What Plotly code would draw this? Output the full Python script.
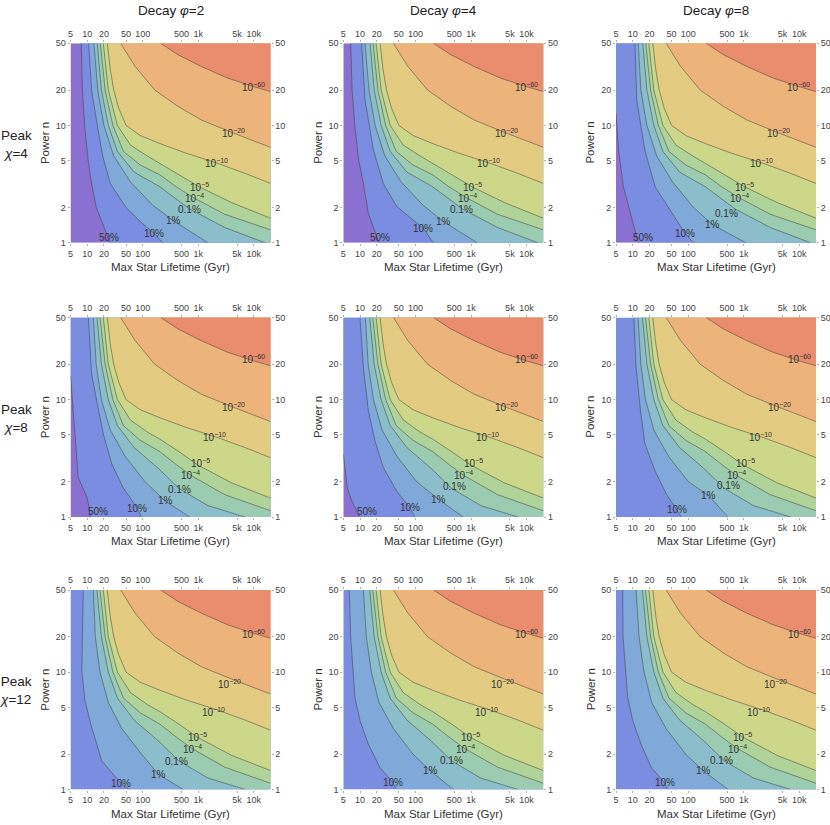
import numpy as np
import plotly.graph_objects as go

# contour levels, from the lower left (likely) to the upper right (unlikely)
level_text = ["50%", "10%", "1%", "0.1%", "10<sup>−4</sup>", "10<sup>−5</sup>",
              "10<sup>−10</sup>", "10<sup>−20</sup>", "10<sup>−60</sup>"]
band_colors = ["#8a70d0", "#7b8de0", "#80a9da", "#8bbdca", "#9bcbb0",
               "#b0d39a", "#ccd78a", "#e3cc82", "#ecb37b", "#e98d6e"]

decay = [2, 4, 8]
peak = [4, 8, 12]

x_ticks = [5, 10, 20, 50, 100, 500, 1000, 5000, 10000]
x_ticktext = ["5", "10", "20", "50", "100", "500", "1k", "5k", "10k"]
y_ticks = [1, 2, 5, 10, 20, 50]
x_min, x_max = 5, 20000
y_min, y_max = 1, 50

# contour lines: max star lifetime (Gyr) and power n
# one entry per panel, row by row (peak 4, 8, 12), None where the level is absent
line_50_x = [[7.8, 8.2, 9.0, 10.4, 11.8, 14.6, 19, 26],
             [6.8, 7.2, 8.1, 9.5, 11.5, 14.1, 18, 22],
             [5, 5.6, 6.8, 9.6, 12.6],
             [5, 5.8, 6.9, 10, 11.5],
             [5, 5.9, 7.1, 10],
             None, None, None, None]
line_50_n = [[50, 20, 10, 5, 3.3, 2, 1.45, 1],
             [50, 20, 9.8, 5, 3.2, 1.79, 1.3, 1],
             [12.7, 6, 3.0, 1.67, 1],
             [16, 6.2, 2.17, 1.46, 1],
             [3.44, 1.78, 1.37, 1],
             None, None, None, None]

line_10_x = [[10.6, 12, 15.2, 19, 26, 50, 100, 160, 230],
             [10.7, 12.3, 17.4, 26.3, 45.8, 138, 209],
             [11, 11.8, 16.5, 25.3, 46.9, 87, 124],
             [10.5, 12, 14.8, 19.5, 27.7, 44.3, 79.6, 95],
             [10, 11.5, 14.1, 18.6, 26.3, 45.4, 79, 97],
             [10.5, 11.5, 13.8, 16.6, 25.2, 40.5, 61.6, 75],
             [8.5, 8.2, 8.0, 9.1, 12, 18.3, 29.4, 41.3, 58],
             [6.4, 6.8, 8.1, 10, 14.1, 22.9, 39.6, 45],
             [6.6, 6.7, 8.1, 10, 14.1, 21.6, 37.5, 42]]
line_10_n = [[50, 20, 10, 5.5, 3.2, 2.0, 1.45, 1.21, 1],
             [50, 16.5, 6.2, 3.2, 2.04, 1.33, 1],
             [50, 16.5, 6.2, 3.0, 1.91, 1.21, 1],
             [50, 16.6, 9.8, 5.1, 2.83, 1.78, 1.19, 1],
             [50, 18.9, 8.1, 4.46, 2.64, 1.67, 1.2, 1],
             [50, 18.9, 8.1, 4.2, 2.47, 1.56, 1.16, 1],
             [50, 20, 10.3, 5.7, 3.4, 1.75, 1.35, 1.12, 1],
             [50, 20, 6.1, 3.86, 2.44, 1.54, 1.14, 1],
             [50, 20, 6.1, 3.86, 2.44, 1.54, 1.14, 1]]

line_1_x = [[13.2, 15.5, 20, 30, 60, 150, 356, 1500],
            [12.3, 14.5, 18.7, 28, 55, 135, 316, 1300],
            [12.6, 14, 18, 27, 52, 125, 277, 1100],
            [12.9, 14.5, 18, 26, 48, 110, 252, 700],
            [12.5, 14, 17.5, 25, 46, 105, 257, 720],
            [12.5, 14, 17, 24, 44, 100, 230, 522],
            [12.9, 14, 17, 24, 42, 95, 191, 535],
            [11.5, 13, 16, 22, 40, 90, 187, 480],
            [11.5, 13, 16, 22, 40, 90, 187, 525]]
line_1_n = [[50, 20, 10, 5.5, 3.3, 2.1, 1.54, 1],
            [50, 20, 10, 5.5, 3.3, 2.1, 1.52, 1],
            [50, 20, 10, 5.5, 3.3, 2.0, 1.42, 1],
            [50, 20, 10, 5.5, 3.3, 2.0, 1.37, 1],
            [50, 20, 10, 5.5, 3.3, 2.0, 1.42, 1],
            [50, 20, 10, 5.5, 3.3, 2.0, 1.53, 1],
            [50, 20, 10, 5.5, 3.3, 2.0, 1.35, 1],
            [50, 20, 10, 5.5, 3.3, 2.0, 1.44, 1],
            [50, 20, 10, 5.5, 3.3, 2.0, 1.44, 1]]

# one entry per row
line_01_x = [[15.2, 18, 24, 35, 70, 204, 700, 3000, 16000],
             [15, 18, 24, 35, 70, 190, 450, 1500, 7000],
             [15, 18, 24, 35, 70, 190, 450, 1500, 7000]]
line_01_n = [[50, 20, 10, 6, 4, 3.0, 1.94, 1.35, 1],
             [50, 20, 10, 6, 3.9, 2.6, 1.75, 1.25, 1],
             [50, 20, 10, 6, 3.9, 2.6, 1.75, 1.25, 1]]
line_e4_x = [[17.2, 21, 29, 45, 90, 204, 400, 850, 3000, 20000],
             [17, 21, 29, 45, 90, 204, 400, 750, 3000, 20000],
             [17, 21, 29, 45, 90, 204, 400, 750, 3000, 20000]]
line_e4_n = [[50, 20, 10, 6, 4.6, 3.79, 3.0, 2.4, 1.75, 1.29],
             [50, 20, 10, 6, 4.5, 3.6, 2.8, 2.25, 1.55, 1.13],
             [50, 20, 10, 6, 4.5, 3.6, 2.8, 2.25, 1.55, 1.13]]
line_e5_x = [[19.5, 24, 35, 60, 120, 204, 450, 1040, 4000, 20000],
             [19.5, 24, 35, 60, 120, 204, 450, 950, 4000, 20000],
             [19.5, 24, 35, 60, 120, 204, 450, 950, 4000, 20000]]
line_e5_n = [[50, 20, 10, 6.8, 5.5, 4.77, 3.8, 3.0, 2.2, 1.62],
             [50, 20, 10, 6.7, 5.3, 4.6, 3.6, 2.8, 1.95, 1.45],
             [50, 20, 10, 6.7, 5.3, 4.6, 3.6, 2.8, 1.95, 1.45]]

# same in every panel
line_e10_x = [23, 26, 30, 37, 50, 90, 204, 600, 2100, 7000, 20000]
line_e10_n = [50, 30, 20, 14, 10, 8.2, 7, 5.8, 4.8, 3.9, 3.2]
line_e20_x = [40, 72, 164, 432, 1140, 4290, 20000]
line_e20_n = [50, 32, 20, 14.5, 11.1, 8.6, 6.5]
line_e60_x = [210, 430, 1140, 3440, 9840, 20000]
line_e60_n = [50, 40, 31.7, 25.2, 21.4, 19.4]

# where the contour labels sit
label_50 = [(25, 1.12), (22.9, 1.12), (15.5, 1.12), (15.9, 1.11), (13.2, 1.12),
            None, None, None, None]
label_10 = [(160, 1.21), (138, 1.33), (87, 1.21), (79.6, 1.19), (79, 1.2),
            (61.6, 1.16), (41.3, 1.12), (39.6, 1.14), (37.5, 1.14)]
label_1 = [(356, 1.54), (316, 1.52), (277, 1.42), (252, 1.37), (257, 1.42),
           (230, 1.53), (191, 1.35), (187, 1.44), (187, 1.44)]
label_01 = [(700, 1.94), (662, 1.91), (489, 1.79), (468, 1.72), (511, 1.82),
            (525, 1.87), (408, 1.73), (445, 1.75), (400, 1.75)]
# per row: 1e-4, 1e-5, 1e-10, 1e-20, 1e-60
label_upper = [[(850, 2.4), (1040, 3.0), (2100, 4.8), (4290, 8.6), (9840, 21.4)],
               [(730, 2.3), (1090, 2.91), (2000, 4.76), (4370, 8.6), (9960, 22)],
               [(780, 2.21), (960, 2.81), (1870, 4.54), (3700, 7.95), (9960, 21.3)]]

FONT = "Liberation Sans, Arial, sans-serif"
W, H = 830, 825
col_left = [70.5, 343.3, 616.0]
row_top = [43.3, 317.5, 590.0]
pw, ph = 200.0, 199.5

fig = go.Figure()
annotations = []
layout_axes = {}


def ax_name(k, letter):
    return letter if k == 1 else f"{letter}{k}"


for r in range(3):
    for c in range(3):
        i = r * 3 + c
        k = i + 1
        xa, ya = ax_name(k, "x"), ax_name(k, "y")

        lines = [
            (line_50_x[i], line_50_n[i]),
            (line_10_x[i], line_10_n[i]),
            (line_1_x[i], line_1_n[i]),
            (line_01_x[r], line_01_n[r]),
            (line_e4_x[r], line_e4_n[r]),
            (line_e5_x[r], line_e5_n[r]),
            (line_e10_x, line_e10_n),
            (line_e20_x, line_e20_n),
            (line_e60_x, line_e60_n),
        ]

        # base band, then each region up and right of a contour on top
        base = band_colors[0] if line_50_x[i] is not None else band_colors[1]
        fig.add_trace(go.Scatter(
            x=[x_min, x_max, x_max, x_min], y=[y_min, y_min, y_max, y_max],
            fill="toself", fillcolor=base, line=dict(width=0), mode="lines",
            xaxis=xa, yaxis=ya, hoverinfo="skip"))
        for j, (lx, ln) in enumerate(lines):
            if lx is None:
                continue
            px = list(lx) + [x_max, x_max, lx[0]]
            py = list(ln) + [ln[-1], y_max, y_max]
            fig.add_trace(go.Scatter(
                x=px, y=py, fill="toself", fillcolor=band_colors[j + 1],
                line=dict(width=0), mode="lines",
                xaxis=xa, yaxis=ya, hoverinfo="skip"))
        for lx, ln in lines:
            if lx is None:
                continue
            fig.add_trace(go.Scatter(
                x=lx, y=ln, mode="lines",
                line=dict(color="rgba(55,55,55,0.6)", width=0.8),
                xaxis=xa, yaxis=ya, hoverinfo="skip"))

        # dummy trace so the top/right axes get drawn
        fig.add_trace(go.Scatter(
            x=[x_min], y=[y_min], mode="markers", marker=dict(opacity=0),
            xaxis=ax_name(k + 9, "x"), yaxis=ax_name(k + 9, "y"),
            hoverinfo="skip"))

        dx = [col_left[c] / W, (col_left[c] + pw) / W]
        dy = [1 - (row_top[r] + ph) / H, 1 - row_top[r] / H]
        common = dict(type="log", showgrid=False, zeroline=False,
                      showline=False, automargin=False,
                      ticks="outside", ticklen=2, tickcolor="#b0b0b0",
                      tickfont=dict(size=9, color="#444", family=FONT))
        xcommon = dict(common, range=[np.log10(x_min), np.log10(x_max)],
                       tickvals=x_ticks, ticktext=x_ticktext, domain=dx)
        ycommon = dict(common, range=[np.log10(y_min), np.log10(y_max)],
                       tickvals=y_ticks, ticktext=[str(v) for v in y_ticks],
                       domain=dy)
        layout_axes["xaxis" if k == 1 else f"xaxis{k}"] = dict(
            xcommon, anchor=ya, side="bottom")
        layout_axes["yaxis" if k == 1 else f"yaxis{k}"] = dict(
            ycommon, anchor=xa, side="left")
        layout_axes[f"xaxis{k + 9}"] = dict(
            xcommon, anchor=ya, side="top", overlaying=xa)
        layout_axes[f"yaxis{k + 9}"] = dict(
            ycommon, anchor=xa, side="right", overlaying=ya)

        # contour labels
        spots = [label_50[i], label_10[i], label_1[i], label_01[i]] + label_upper[r]
        for txt, spot in zip(level_text, spots):
            if spot is None:
                continue
            annotations.append(dict(
                x=np.log10(spot[0]), y=np.log10(spot[1]), xref=xa, yref=ya,
                text=txt, showarrow=False, xanchor="center", yanchor="middle",
                font=dict(size=10, color="#333", family=FONT)))

        # axis titles
        annotations.append(dict(
            x=(col_left[c] + pw / 2) / W, y=1 - (row_top[r] + 223.5) / H,
            xref="paper", yref="paper", text="Max Star Lifetime (Gyr)",
            showarrow=False, xanchor="center", yanchor="middle",
            font=dict(size=11.5, color="#333", family=FONT)))
        annotations.append(dict(
            x=(col_left[c] - 25.5) / W, y=1 - (row_top[r] + ph / 2) / H,
            xref="paper", yref="paper", text="Power n", textangle=-90,
            showarrow=False, xanchor="center", yanchor="middle",
            font=dict(size=11.5, color="#333", family=FONT)))

for c in range(3):
    annotations.append(dict(
        x=(col_left[c] + pw / 2) / W, y=1 - 11 / H,
        xref="paper", yref="paper",
        text=f"Decay <i>φ</i>={decay[c]}", showarrow=False,
        xanchor="center", yanchor="middle",
        font=dict(size=13.5, color="#222", family=FONT)))
for r in range(3):
    annotations.append(dict(
        x=16 / W, y=1 - (row_top[r] + ph / 2 + 1) / H,
        xref="paper", yref="paper",
        text=f"Peak<br><i>χ</i>={peak[r]}", showarrow=False, align="center",
        xanchor="center", yanchor="middle",
        font=dict(size=13.5, color="#222", family=FONT)))

fig.update_layout(
    width=W, height=H, margin=dict(l=0, r=0, t=0, b=0, autoexpand=False),
    paper_bgcolor="white", plot_bgcolor="white", showlegend=False,
    annotations=annotations, **layout_axes)

# the page's default body margin would push the figure 8px in
fig.write_html("out.html", config={"displayModeBar": False},
               post_script="document.body.style.margin='0';")
